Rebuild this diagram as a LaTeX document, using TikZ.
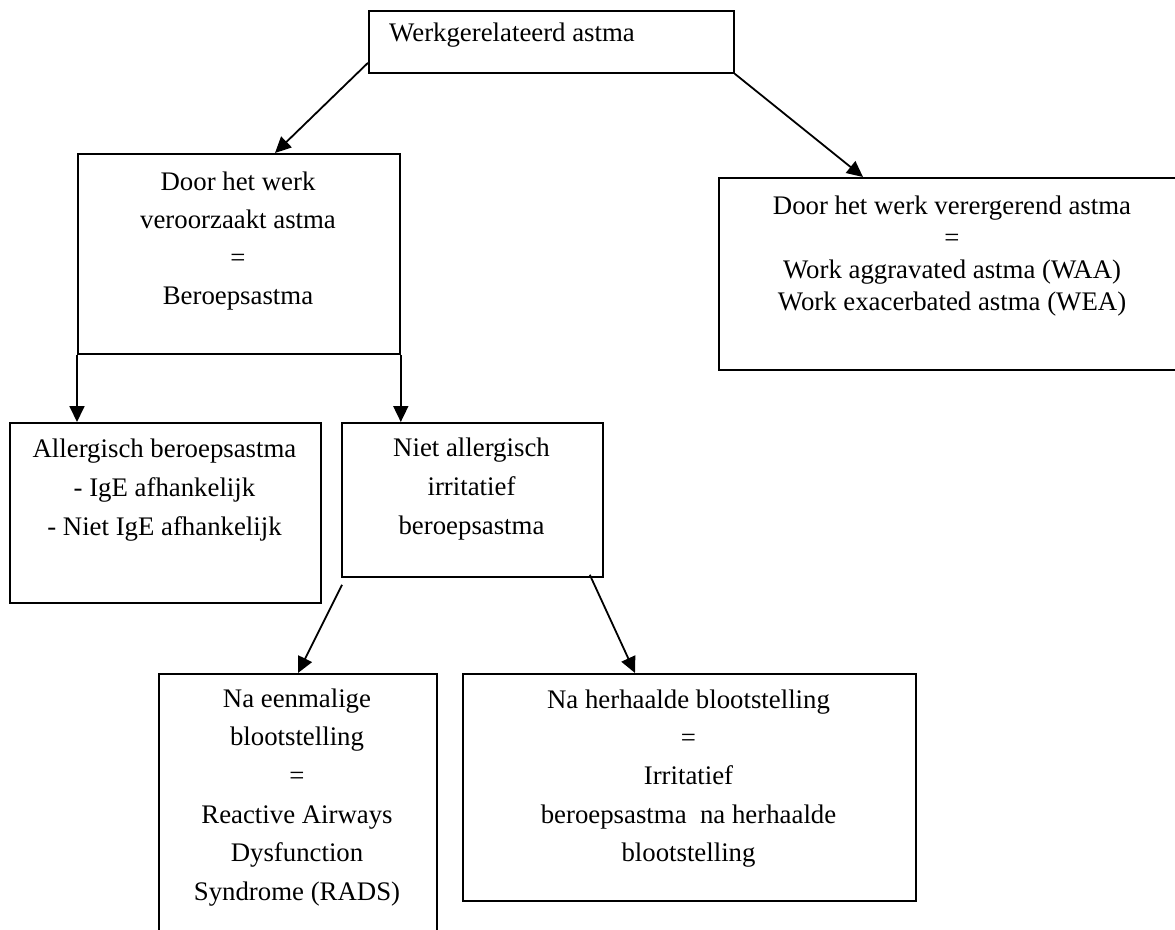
\documentclass[tikz,border=0pt]{standalone}
\usepackage{fontspec}
\setmainfont{Liberation Serif}
\usetikzlibrary{arrows.meta,calc}
\tikzset{
  box/.style={draw, line width=1.8pt, rectangle, inner sep=0pt, anchor=north west},
  txt/.style={inner sep=0pt, align=center, anchor=north},
  conn/.style={line width=1.8pt, -{Triangle[length=16pt,width=15pt]}},
}
\begin{document}
\begin{tikzpicture}[x=1pt,y=-1pt]
\useasboundingbox (0,0) rectangle (1175,929);
\clip (0,0) rectangle (1175,929);
% boxes
\node[box, minimum width=365pt, minimum height=62pt] (top) at (368,10) {};
\node[box, minimum width=322pt, minimum height=200pt] (door) at (77,153) {};
\node[box, minimum width=468pt, minimum height=192pt] (waa) at (718,177) {};
\node[box, minimum width=311pt, minimum height=180pt] (allerg) at (9,422) {};
\node[box, minimum width=261pt, minimum height=154pt] (niet) at (341,422) {};
\node[box, minimum width=278pt, minimum height=300pt] (rads) at (158,673) {};
\node[box, minimum width=453pt, minimum height=227pt] (herh) at (462,673) {};
% texts
\node[inner sep=0pt, anchor=base west, font=\fontsize{26.8}{32}\selectfont] (topt) at (389,41) {Werkgerelateerd astma};
\node[txt, font=\fontsize{26.8}{38}\selectfont] (doort) at (238,164)
  {\strut Door het werk\\veroorzaakt astma\\=\\Beroepsastma};
\node[txt, font=\fontsize{26.8}{32}\selectfont] (waat) at (952,191.6)
  {\strut Door het werk verergerend astma\\=\\Work aggravated astma (WAA)\\Work exacerbated astma (WEA)};
\node[txt, font=\fontsize{26.8}{39}\selectfont] (allergt) at (164.5,429.7)
  {\strut Allergisch beroepsastma\\- IgE afhankelijk\\- Niet IgE afhankelijk};
\node[txt, font=\fontsize{26.8}{39}\selectfont] (nietxt) at (471.5,428.7)
  {\strut Niet allergisch\\irritatief\\beroepsastma};
\node[txt, font=\fontsize{26.8}{38.6}\selectfont] (radst) at (297,680)
  {\strut Na eenmalige\\blootstelling\\=\\Reactive Airways\\Dysfunction\\Syndrome (RADS)};
\node[txt, font=\fontsize{26.8}{38.3}\selectfont] (herht) at (688.5,681.2)
  {\strut Na herhaalde blootstelling\\=\\Irritatief\\beroepsastma\ \ na herhaalde\\blootstelling};
% connectors
\draw[conn] ($(top.south west)+(0,-11)$) -- ($(door.north west)+(198,0)$);
\draw[conn] (top.south east) -- ($(waa.north west)+(145,0)$);
\draw[conn] (door.south west) -- (door.south west |- allerg.north);
\draw[conn] (door.south east) -- (door.south east |- niet.north);
\draw[conn] ($(niet.south west)+(1,7)$) -- ($(rads.north west)+(140,0)$);
\draw[conn] ($(niet.south east)+(-14,-3)$) -- ($(herh.north west)+(173,0)$);
\end{tikzpicture}
\end{document}
